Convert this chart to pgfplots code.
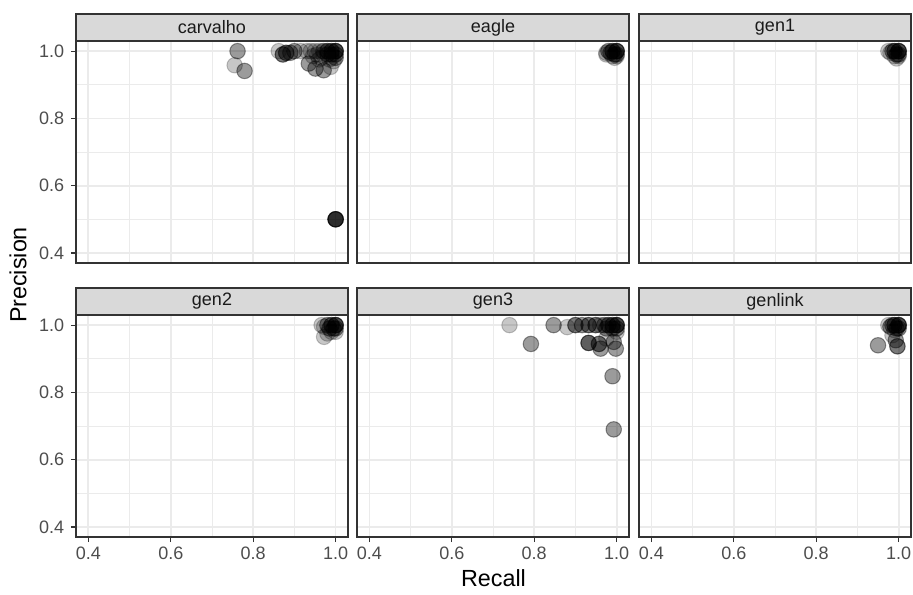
\documentclass[border=0pt]{standalone}
\usepackage{pgfplots}
\pgfplotsset{compat=1.18}
\usepackage{fontspec}
\setmainfont{Liberation Sans}
\definecolor{grey20}{HTML}{333333}
\definecolor{grey30}{HTML}{4D4D4D}
\definecolor{grey10}{HTML}{1A1A1A}
\definecolor{grey85}{HTML}{D9D9D9}
\definecolor{grey92}{HTML}{EBEBEB}
\pgfplotsset{
  panel/.style={
    scale only axis, width=204pt, height=166.5pt,
    anchor=south west,
    xmin=0.37, xmax=1.03, ymin=0.37, ymax=1.03,
    xtick={0.4,0.6,0.8,1.0}, ytick={0.4,0.6,0.8,1.0},
    minor xtick={0.5,0.7,0.9}, minor ytick={0.5,0.7,0.9},
    grid=both,
    major grid style={color=grey92, line width=1.3pt},
    minor grid style={color=grey92, line width=0.65pt},
    axis line style={grey20, line width=0.9pt},
    tick align=outside, major tick length=3.8pt, minor tick length=0pt,
    xtick pos=lower, ytick pos=left,
    tick style={grey20, line width=0.9pt},
    ticklabel style={font=\fontsize{13.5}{15}\selectfont, text=grey30},
    yticklabel style={xshift=-1.5pt},
    /pgf/number format/assume math mode=true,
    /pgf/number format/.cd, fixed, fixed zerofill, precision=1, /pgfplots/.cd,
  },
  noxlab/.style={xticklabels={}, xtick style={draw=none}},
  noylab/.style={yticklabels={}, ytick style={draw=none}},
  pts/.style={only marks, mark=*, mark size=5.8pt,
    mark options={fill=black, fill opacity=0.22, draw=black, draw opacity=0.22, line width=0.75pt}},
}
\begin{document}
\begin{tikzpicture}
\path[use as bounding box] (0,0) rectangle (684.75pt,-446.25pt);
% strips
\foreach \xl/\lab in {57/carvalho,267.75/eagle,479.25/gen1}{
  \draw[fill=grey85, draw=grey20, line width=0.9pt] (\xl pt,-10.5pt) rectangle ++(204pt,-20.25pt);
  \node[text=grey10, font=\fontsize{13.5}{15}\selectfont] at ([xshift=102pt]\xl pt,-20.6pt) {\lab};
}
\foreach \xl/\lab in {57/gen2,267.75/gen3,479.25/genlink}{
  \draw[fill=grey85, draw=grey20, line width=0.9pt] (\xl pt,-216pt) rectangle ++(204pt,-20.25pt);
  \node[text=grey10, font=\fontsize{13.5}{15}\selectfont] at ([xshift=102pt]\xl pt,-226.1pt) {\lab};
}
% carvalho
\begin{axis}[panel, noxlab, at={(57pt,-197.25pt)}]
\addplot[pts] coordinates {
(0.762,1.0)(0.762,1.0)(0.755,0.958)(0.779,0.941)(0.779,0.941)(0.862,1.0)
(0.872,0.99)(0.872,0.99)(0.872,0.99)(0.88,0.995)(0.88,0.995)(0.88,0.995)(0.89,0.995)(0.89,0.995)(0.9,1.0)(0.9,1.0)(0.915,1.0)
(0.93,1.0)(0.94,1.0)(0.935,0.963)(0.935,0.963)(0.951,0.948)(0.951,0.948)(0.971,0.943)(0.971,0.943)(0.988,0.953)(0.96,0.975)(0.945,0.985)
(0.95,1)(0.96,1)(0.97,1)(0.97,1)(0.98,1)(0.98,1)(0.98,1)(0.99,1)(0.99,1)(0.99,1)
(1,1)(1,1)(1,1)(1,1)(1,1)(0.97,0.99)(0.98,0.99)(0.98,0.99)(0.99,0.99)(0.99,0.99)
(1,0.99)(1,0.99)(1,0.98)(1,0.98)(0.99,0.98)(0.985,0.975)(0.995,0.97)(0.965,0.98)(0.955,0.99)
(1,0.5)(1,0.5)(1,0.5)(1,0.5)(1,0.5)(1,0.5)(1,0.5)
};
\end{axis}
% eagle
\begin{axis}[panel, noxlab, noylab, at={(267.75pt,-197.25pt)}]
\addplot[pts] coordinates {
(0.975,0.99)(0.975,0.995)(0.98,1)(0.98,1)(0.985,0.995)(0.985,0.995)(0.99,1)(0.99,1)(0.99,1)
(0.995,0.99)(0.995,0.99)(1,1)(1,1)(1,1)(1,1)(1,1)(1,0.99)(1,0.99)(0.99,0.985)(1,0.985)(0.995,0.98)
};
\end{axis}
% gen1
\begin{axis}[panel, noxlab, noylab, at={(479.25pt,-197.25pt)}]
\addplot[pts] coordinates {
(0.975,1)(0.98,0.995)(0.985,1)(0.985,1)(0.99,1)(0.99,1)(0.99,1)(0.995,0.99)(0.995,0.99)
(1,1)(1,1)(1,1)(1,1)(1,1)(1,0.99)(1,0.99)(0.99,0.985)(0.995,0.978)(1,0.985)
};
\end{axis}
% gen2
\begin{axis}[panel, at={(57pt,-402.75pt)}]
\addplot[pts] coordinates {
(0.966,1.0)(0.972,0.995)(0.972,0.965)(0.98,0.975)(0.98,1)(0.98,1)(0.985,0.99)(0.985,0.99)
(0.99,1)(0.99,1)(0.99,1)(0.995,0.99)(0.995,0.99)(1,1)(1,1)(1,1)(1,1)(1,1)(1,0.99)(1,0.99)(0.99,0.98)(1,0.98)
};
\end{axis}
% gen3
\begin{axis}[panel, noylab, at={(267.75pt,-402.75pt)}]
\addplot[pts] coordinates {
(0.74,1.0)(0.792,0.944)(0.792,0.944)(0.847,1.0)(0.847,1.0)(0.88,0.994)(0.9,1.0)(0.9,1.0)(0.9,1.0)
(0.916,1.0)(0.916,1.0)(0.932,1.0)(0.932,1.0)(0.932,1.0)(0.949,1.0)(0.949,1.0)(0.949,1.0)
(0.96,1)(0.97,1)(0.97,1)(0.975,0.99)(0.975,0.99)(0.98,1)(0.98,1)(0.98,1)(0.99,1)(0.99,1)(0.99,1)
(1,1)(1,1)(1,1)(1,1)(1,1)(0.99,0.99)(0.99,0.99)(1,0.99)(1,0.99)(1,0.98)
(0.932,0.947)(0.932,0.947)(0.932,0.947)(0.932,0.947)(0.957,0.944)(0.957,0.944)(0.957,0.944)(0.961,0.93)(0.961,0.93)(0.993,0.95)(0.993,0.95)(0.998,0.93)(0.998,0.93)(0.975,0.96)
(0.99,0.848)(0.99,0.848)(0.993,0.69)(0.993,0.69)
};
\end{axis}
% genlink
\begin{axis}[panel, noylab, at={(479.25pt,-402.75pt)}]
\addplot[pts] coordinates {
(0.975,1)(0.98,0.995)(0.98,0.995)(0.985,1)(0.985,1)(0.99,1)(0.99,1)(0.99,1)(0.995,0.99)(0.995,0.99)
(1,1)(1,1)(1,1)(1,1)(1,1)(1,0.99)(1,0.99)(0.99,0.985)
(0.95,0.94)(0.95,0.94)(0.997,0.937)(0.997,0.937)(0.997,0.937)(0.993,0.955)(0.993,0.955)(0.985,0.97)
};
\end{axis}
\node[rotate=90, font=\fontsize{17.5}{19}\selectfont, text=black] at (13.5pt,-206.25pt) {Precision};
\node[font=\fontsize{17.5}{19}\selectfont, text=black] at (370.1pt,-433.5pt) {Recall};
\end{tikzpicture}
\end{document}
